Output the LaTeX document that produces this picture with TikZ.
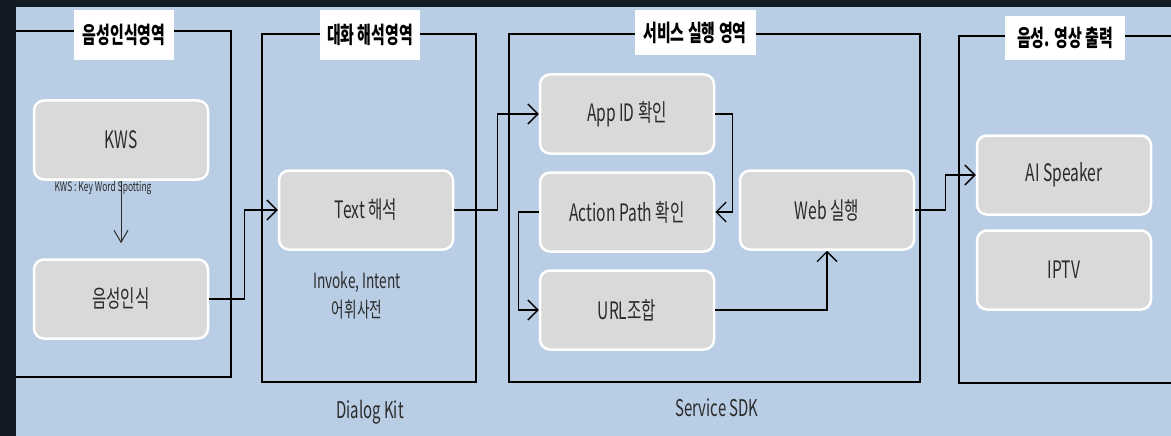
\documentclass[tikz,border=0pt]{standalone}
\usepackage{fontspec}
\setmainfont{Noto Sans CJK KR}[FakeStretch=0.65]
\usetikzlibrary{arrows.meta}
\definecolor{nightbg}{HTML}{121A23}
\definecolor{panelbg}{HTML}{B9CDE4}
\definecolor{boxgray}{HTML}{D9D9D9}
\definecolor{inkgray}{HTML}{2B2B2B}

\tikzstyle{stage}=[draw=white,line width=2.5pt,fill=boxgray,rounded corners=10pt,minimum width=174pt,minimum height=79pt,text=inkgray,font=\fontsize{24}{28}\selectfont]
\tikzstyle{area}=[draw=black,line width=1.4pt]
\tikzstyle{title}=[fill=white,inner sep=0pt,font=\fontsize{23}{26}\selectfont\bfseries]
\tikzstyle{link}=[draw=black,line width=1.4pt,-{Straight Barb[length=10pt,width=20pt]}]
\tikzstyle{caption}=[text=inkgray,font=\fontsize{23}{26}\selectfont]
\newcommand{\pxscale}{1pt}

\begin{document}
\begin{tikzpicture}[x=\pxscale,y=-\pxscale]
    \useasboundingbox (0,0) rectangle (1171,436);
    % First we draw the background and the four areas
    \fill[nightbg] (0,0) rectangle (1171,436);
    \fill[panelbg] (16,7) rectangle (1171,436);
    \draw[area] (16,31) -| (231,377) -- (16,377);
    \draw[area] (262,34) rectangle (476,382);
    \draw[area] (509,34) rectangle (920,382);
    \draw[area] (1171,36) -| (959,383) -- (1171,383);
    % Area titles
    \node[title,minimum width=100pt,minimum height=50pt] (asrarea) at (124,35) {음성인식영역};
    \node[title,minimum width=100pt,minimum height=50pt] (dlgarea) at (370,35) {대화 해석영역};
    \node[title,minimum width=121pt,minimum height=45pt] (svcarea) at (695,33) {서비스 실행 영역};
    \node[title,minimum width=120pt,minimum height=44pt] (outarea) at (1065,38) {음성. 영상 출력};
    % Then the steps
    \foreach \pos/\name/\txt in {{(121,140)/kws/KWS}, {(121,299)/asr/음성인식},
        {(366,210)/text/Text 해석}, {(627,114)/appid/App ID 확인},
        {(627,212)/apath/Action Path 확인}, {(627,310)/url/URL조합},
        {(827,210)/web/Web 실행}, {(1064,175)/spk/AI Speaker}, {(1064,270)/iptv/IPTV}}
        \node[stage] (\name) at \pos {\txt};
    % Connect the steps
    \draw[line width=1pt,draw=inkgray,-{Straight Barb[length=12pt,width=14pt]},shorten >=15pt] (kws) -- (asr);
    \node[text=inkgray,font=\fontsize{13}{15}\selectfont] (kwsnote) at (103,188) {KWS : Key Word Spotting};
    \path[link] (asr.east) -- ++(35,0) |- (text.west);
    \path[link] (text.east) -- ++(43,0) |- (appid.west);
    \path[link] (appid.east) -- ++(17,0) |- (apath.east);
    \path[link] (apath.west) -- ++(-20,0) |- (url.west);
    \path[link] (url.east) -| (web.south);
    \path[link] (web.east) -- ++(30,0) |- (spk.west);
    % Captions
    \node[caption,align=center,font=\fontsize{21}{29}\selectfont] (dict) at (357,295) {Invoke, Intent\\어휘사전};
    \node[caption] (dlgkit) at (370,412) {Dialog Kit};
    \node[caption] (svcsdk) at (717,408) {Service SDK};
\end{tikzpicture}
\end{document}
